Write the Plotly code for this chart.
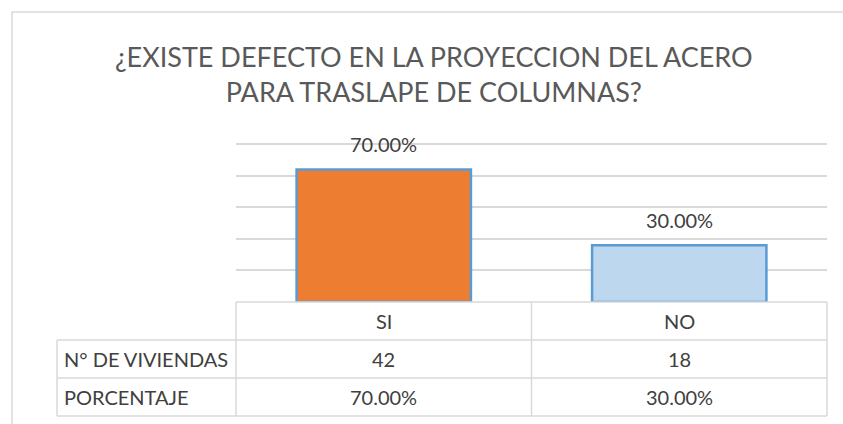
import plotly.graph_objects as go

categories = ["SI", "NO"]
viviendas = [42, 18]
porcentaje = [0.70, 0.30]
row_labels = ["N° DE VIVIENDAS", "PORCENTAJE"]
title_text = "¿EXISTE DEFECTO EN LA PROYECCION DEL ACERO<br>PARA TRASLAPE DE COLUMNAS?"

bar_colors = ["#ED7D31", "#BDD7EE"]
edge = "#5B9BD5"
grid = "#D9D9D9"
txt = "#404040"
FONT = "Lato"

W, H = 843, 424
L, R, T, B = 236, 16, 141, 122
pw, ph = W - L - R, H - T - B
YMAX = 51

def px_x(p):
    return (p - L) / pw

def px_y(p):
    return (H - B - p) / ph

pct_text = [f"{v*100:.2f}%" for v in porcentaje]

fig = go.Figure()
fig.add_trace(go.Bar(
    x=categories, y=viviendas,
    marker=dict(color=bar_colors, line=dict(color=edge, width=2.5)),
    width=0.59, hoverinfo="skip", showlegend=False,
))

annotations = []
for c, v, t in zip(categories, viviendas, pct_text):
    annotations.append(dict(x=c, y=v, xref="x", yref="y", text=t, showarrow=False,
                            xanchor="center", yanchor="bottom", yshift=11,
                            font=dict(family=FONT, size=20, color=txt)))

shapes = []
line = dict(color=grid, width=1.5)
# outer chart border
shapes.append(dict(type="rect", xref="paper", yref="paper", x0=px_x(12), x1=1.2,
                   y0=-1.2, y1=px_y(12), line=dict(color=grid, width=1.5)))
# table
rows_y = [302, 340, 378, 416]
col_x = [57, 236, 531.5, 827]
shapes.append(dict(type="line", xref="paper", yref="paper", x0=px_x(236), x1=px_x(827),
                   y0=px_y(302), y1=px_y(302), line=line))
for yy in rows_y[1:]:
    shapes.append(dict(type="line", xref="paper", yref="paper", x0=px_x(57), x1=px_x(827),
                       y0=px_y(yy), y1=px_y(yy), line=line))
shapes.append(dict(type="line", xref="paper", yref="paper", x0=px_x(57), x1=px_x(57),
                   y0=px_y(340), y1=px_y(416), line=line))
for xx in col_x[1:]:
    shapes.append(dict(type="line", xref="paper", yref="paper", x0=px_x(xx), x1=px_x(xx),
                       y0=px_y(302), y1=px_y(416), line=line))

cell_font = dict(family=FONT, size=20, color=txt)
for i, c in enumerate(categories):
    for val, yy in ((c, 321), (str(viviendas[i]), 359), (pct_text[i], 397)):
        annotations.append(dict(x=c, xref="x", y=px_y(yy), yref="paper", text=val,
                                xanchor="center", yanchor="middle",
                                showarrow=False, font=cell_font))
for lab, yy in zip(row_labels, [359, 397]):
    annotations.append(dict(x=px_x(62), xref="paper", xanchor="left", y=px_y(yy), yref="paper",
                            yanchor="middle", text=lab, showarrow=False, font=cell_font))

annotations.append(dict(x=px_x(434), xref="paper", xanchor="center", y=px_y(74), yref="paper",
                        yanchor="middle", text=title_text, showarrow=False, align="center",
                        font=dict(family=FONT, size=27, color="#595959")))

fig.update_layout(
    width=W, height=H,
    margin=dict(l=L, r=R, t=T, b=B),
    paper_bgcolor="white", plot_bgcolor="white",
    xaxis=dict(showticklabels=False, showgrid=False, zeroline=False, showline=False,
               range=[-0.5, 1.5]),
    yaxis=dict(range=[0, YMAX], dtick=10, showticklabels=False, showgrid=True,
               gridcolor=grid, gridwidth=1.5, zeroline=False, showline=False),
    annotations=annotations, shapes=shapes,
    bargap=0.41,
)
fig.write_html("out.html", config={"displayModeBar": False},
               post_script="document.body.style.margin='0px';")
